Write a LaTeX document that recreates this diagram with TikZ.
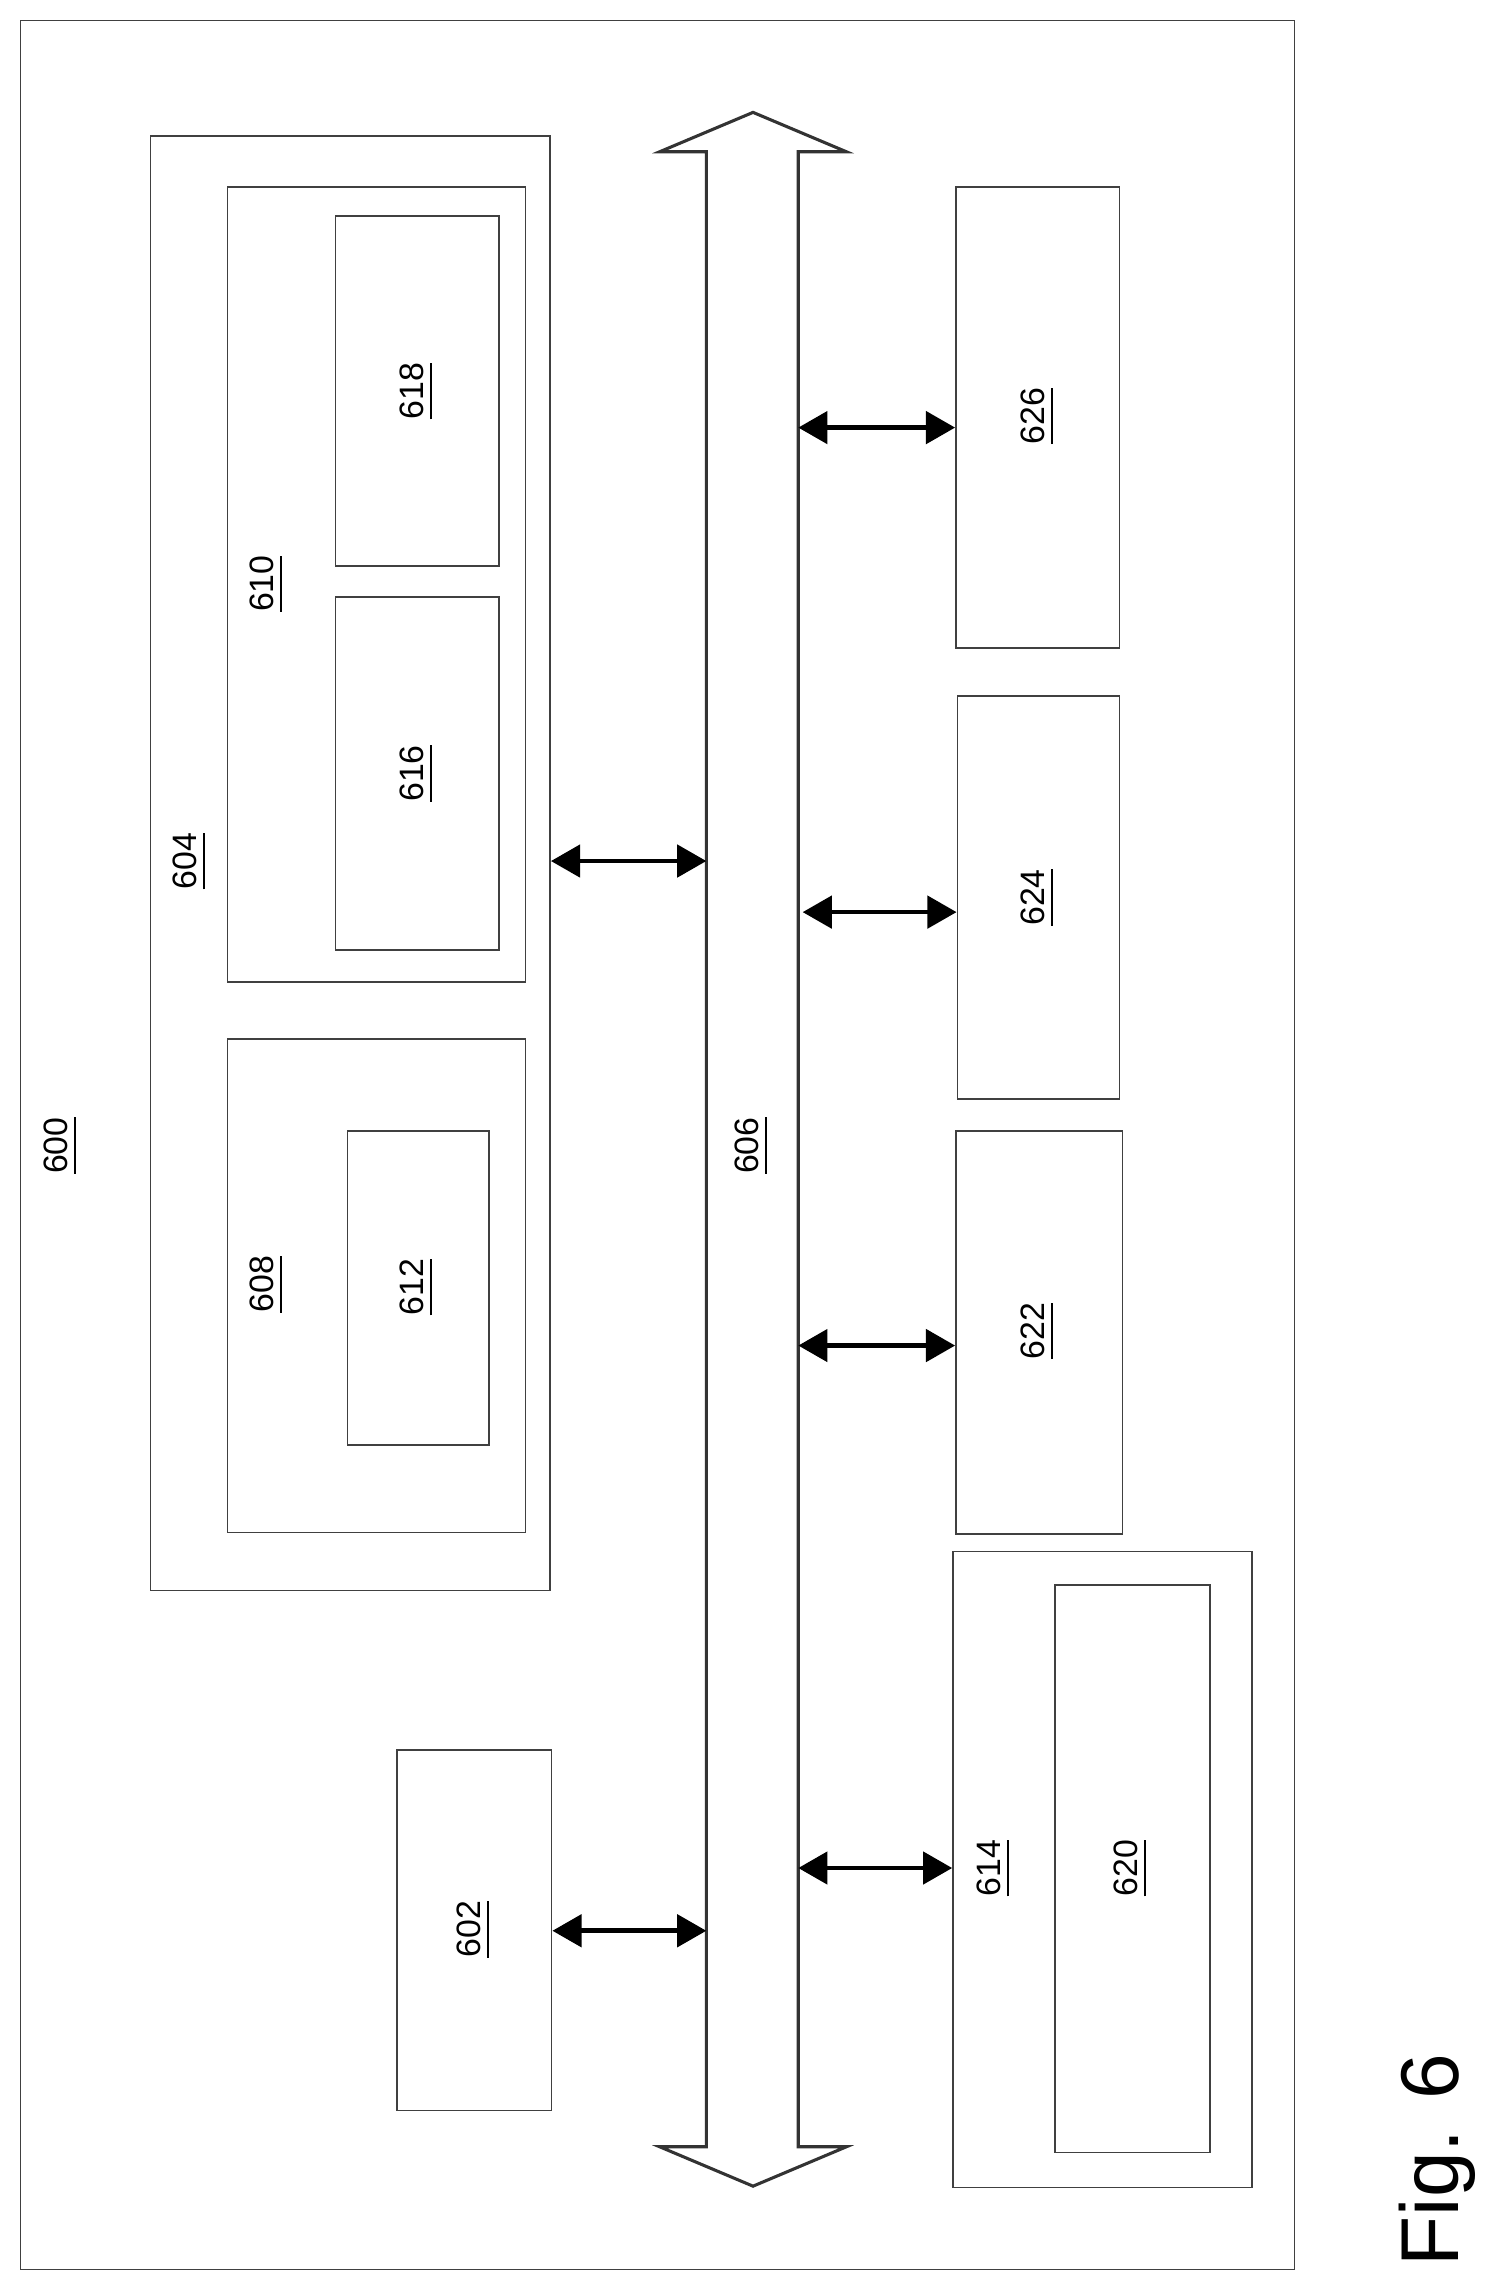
\documentclass[tikz,border=0pt]{standalone}
\usepackage{fontspec}
\setmainfont{Liberation Sans}
\usetikzlibrary{positioning,arrows.meta}
\tikzset{
		>={Triangle[length=2mm,width=2.2mm]}
	}
\begin{document}
\begin{tikzpicture}[x=0.1mm,y=-0.1mm,
		box/.style={draw, line width=0.3pt, black!75, inner sep=0},
		num/.style={rotate=90, font=\fontsize{6.6}{8}\selectfont, inner sep=0},
		link/.style={<->, line width=0.9pt}]
		\useasboundingbox (0,0) rectangle (1024,1563);
		% outer device
		\draw[box] (14,14) rectangle (887,1555);
		\node[num] (l600) at (42,785) {\underline{600}};
		% memory block
		\node[box, minimum width=27.4mm, minimum height=99.7mm] (n604) at (240,591.5) {};
		\node[num] (l604) at (130,590) {\underline{604}};
		\node[box, minimum width=20.4mm, minimum height=54.5mm] (n610) at (258,400.5) {};
		\node[num] (l610) at (183,400) {\underline{610}};
		\node[box, minimum width=11.2mm, minimum height=24mm] (n618) at (286,268) {};
		\node[num] (l618) at (286,268) {\underline{618}};
		\node[box, minimum width=11.2mm, minimum height=24.2mm] (n616) at (286,530) {};
		\node[num] (l616) at (286,530) {\underline{616}};
		\node[box, minimum width=20.4mm, minimum height=33.8mm] (n608) at (258,881) {};
		\node[num] (l608) at (183,880) {\underline{608}};
		\node[box, minimum width=9.7mm, minimum height=21.5mm] (n612) at (286.5,882.5) {};
		\node[num] (l612) at (286,882) {\underline{612}};
		\node[box, minimum width=10.6mm, minimum height=24.7mm] (n602) at (325,1322.5) {};
		\node[num] (l602) at (325,1322) {\underline{602}};
		% bus
		\draw[line width=0.6pt, black!80, line join=miter]
			(484,104) -- (452,104) -- (516,77) -- (580,104) -- (547,104)
			-- (547,1471) -- (580,1471) -- (516,1498) -- (452,1471) -- (484,1471) -- cycle;
		\node[num] (l606) at (515,785) {\underline{606}};
		% peripherals
		\node[box, minimum width=11.2mm, minimum height=31.6mm] (n626) at (711,286) {};
		\node[num] (l626) at (711,285) {\underline{626}};
		\node[box, minimum width=11.1mm, minimum height=27.6mm] (n624) at (711.5,615) {};
		\node[num] (l624) at (711,615) {\underline{624}};
		\node[box, minimum width=11.4mm, minimum height=27.6mm] (n622) at (712,913) {};
		\node[num] (l622) at (711,912) {\underline{622}};
		\node[box, minimum width=20.5mm, minimum height=43.6mm] (n614) at (755.5,1281) {};
		\node[num] (l614) at (681,1280) {\underline{614}};
		\node[box, minimum width=10.6mm, minimum height=38.9mm] (n620) at (776,1280.5) {};
		\node[num] (l620) at (775,1280) {\underline{620}};
		\node[rotate=90, font=\fontsize{16}{18}\selectfont] (fig) at (985,1480) {Fig. 6};
		% bus taps
		\coordinate (b604) at (484,590);
		\coordinate (b602) at (484,1323);
		\coordinate (b626) at (547,293);
		\coordinate (b624) at (550,625);
		\coordinate (b622) at (547,922);
		\coordinate (b614) at (547,1280);
		\draw[link] (n604.east |- b604) -- (b604);
		\draw[link] (n602.east |- b602) -- (b602);
		\draw[link] (b626) -- (n626.west |- b626);
		\draw[link] (b624) -- (n624.west |- b624);
		\draw[link] (b622) -- (n622.west |- b622);
		\draw[link] (b614) -- (n614.west |- b614);
	\end{tikzpicture}
\end{document}
